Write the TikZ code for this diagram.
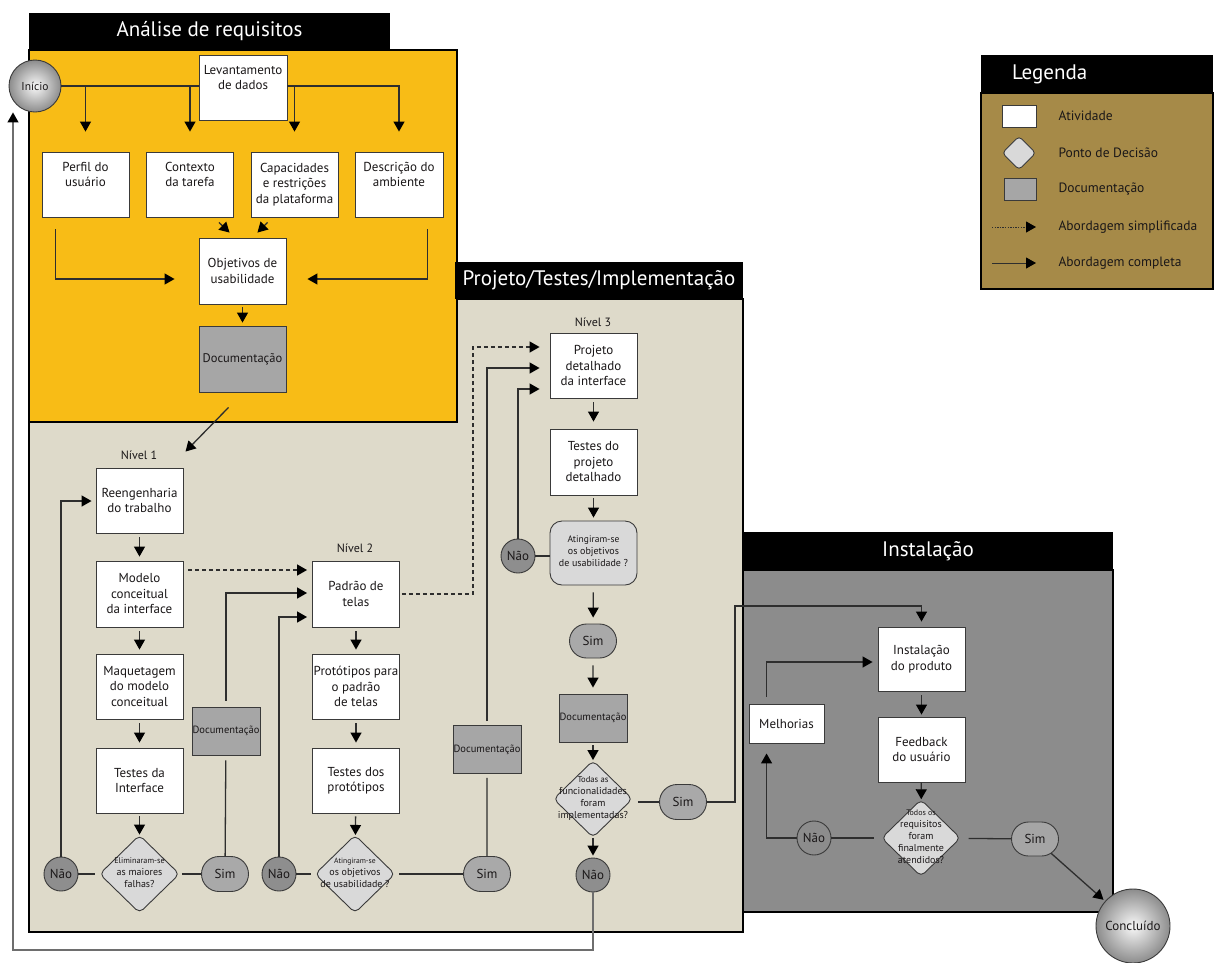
\documentclass[tikz,border=0pt]{standalone}
\usepackage{fontspec}
\setmainfont{PT Sans}
\usetikzlibrary{arrows.meta,shapes.geometric,shapes.misc,calc}

\definecolor{reqyellow}{HTML}{F8BC16}
\definecolor{projbeige}{HTML}{DEDACA}
\definecolor{instgray}{HTML}{8C8C8C}
\definecolor{legolive}{HTML}{A68A48}
\definecolor{docgray}{HTML}{A6A6A6}
\definecolor{decgray}{HTML}{D9D9D9}
\definecolor{naogray}{HTML}{8E8E8E}
\definecolor{simgray}{HTML}{A9A9A9}
\definecolor{ink}{HTML}{1A1718}
\definecolor{edge}{HTML}{3A3A3A}
\definecolor{wire}{HTML}{2E2E2E}
\definecolor{outer}{HTML}{6E6E6E}

% centred multi-line text that does not enlarge its shape
\newcommand{\dtext}[1]{\makebox[0pt]{\raisebox{-2pt}[0pt][0pt]{\begin{tabular}[c]{@{}c@{}}#1\end{tabular}}}}

\tikzset{
  panel/.style={draw=black, line width=1.8pt},
  header/.style={fill=black, text=white, inner sep=0pt, font=\fontsize{21}{24}\selectfont},
  act/.style={draw=edge, line width=0.9pt, fill=white, minimum width=87pt, minimum height=65pt,
    inner sep=1pt, align=center, font=\fontsize{13}{15.5}\selectfont},
  docbox/.style={draw=edge, line width=0.9pt, fill=docgray, minimum width=68pt, minimum height=48pt,
    inner sep=0pt, font=\fontsize{10.5}{12}\selectfont},
  dec/.style={diamond, draw=edge, line width=0.9pt, fill=decgray, minimum width=80pt, minimum height=78pt,
    inner sep=0pt, rounded corners=5pt},
  decbox/.style={rectangle, draw=edge, line width=0.9pt, fill=decgray, minimum width=87pt, minimum height=64pt,
    inner sep=0pt, rounded corners=12pt},
  naoc/.style={circle, draw=edge, line width=0.9pt, fill=naogray, minimum size=34pt, inner sep=0pt,
    font=\fontsize{13}{15}\selectfont},
  simr/.style={rounded rectangle, draw=edge, line width=0.9pt, fill=simgray, minimum width=47pt,
    minimum height=35pt, inner sep=0pt, font=\fontsize{13}{15}\selectfont},
  endpt/.style={circle, draw=edge, line width=0.9pt, inner sep=0pt, shading=radial,
    inner color=white!95!gray, outer color=black!45},
  nivel/.style={font=\fontsize{12}{14}\selectfont},
  legtext/.style={anchor=west, font=\fontsize{13.5}{15}\selectfont},
  link/.style={draw=wire, line width=1.3pt},
  arr/.style={link, -{Triangle[length=10pt,width=11pt,color=black]}},
  darr/.style={arr, dash pattern=on 4pt off 3pt},
}

\begin{document}
\begin{tikzpicture}[x=1pt, y=-1pt, text=ink]
\useasboundingbox (0,0) rectangle (1217,962);

% ---------- panels ----------
\draw[panel, fill=instgray] (743,570) rectangle (1113,912);
\draw[panel, fill=projbeige] (29,299) rectangle (743,932);
\draw[panel, fill=reqyellow] (29,50) rectangle (457,422);
\draw[panel, fill=legolive] (981,93) rectangle (1213,289);

\node[header, minimum width=361pt, minimum height=37pt] (hreq) at (209.5,31.5) {Análise de requisitos};
\node[header, minimum width=288pt, minimum height=37pt] (hproj) at (599,280.5) {Projeto/Testes/Implementação};
\node[header, minimum width=370pt, minimum height=38pt] (hinst) at (928,551) {Instalação};
\node[header, minimum height=38pt, text width=170pt, inner xsep=31pt, align=left] (hleg) at (1097,74) {Legenda};

% ---------- Análise de requisitos ----------
\node[endpt, minimum size=52pt, font=\fontsize{11.5}{13}\selectfont] (inicio) at (35,86) {Início};
\node[act, minimum width=88pt] (lev) at (243,87.5) {Levantamento\\de dados\\\strut};
\node[act] (perfil) at (85.5,184.5) {Perfil do\\usuário\\\strut};
\node[act] (ctx) at (190,184.5) {Contexto\\da tarefa\\\strut};
\node[act] (cap) at (294.5,184.5) {Capacidades\\e restrições\\da plataforma};
\node[act, minimum width=88pt] (descr) at (399,184.5) {Descrição do\\ambiente\\\strut};
\node[act, minimum height=66pt] (obj) at (242.5,271) {Objetivos de\\usabilidade};
\node[docbox, minimum width=87pt, minimum height=66pt, font=\fontsize{12.5}{15}\selectfont] (doc0) at (242.5,359) {Documentação};

\draw[link] (inicio.east) -- (inicio.east -| lev.west);
\draw[arr, shorten >=20pt] (perfil.north |- inicio.east) -- (perfil.north);
\draw[arr, shorten >=20pt] (ctx.north |- inicio.east) -- (ctx.north);
\draw[arr, shorten >=20pt] (cap.north |- inicio.east) -- (cap.north);
\draw[arr, shorten >=20pt] (lev.east |- inicio.east) -| (descr.north);
\draw[arr] ($(ctx.south east)+(-15,5)$) -- ($(obj.north west)+(31,-5)$);
\draw[arr] ($(cap.south west)+(17,5)$) -- ($(obj.north east)+(-29,-5)$);
\draw[arr, shorten >=24pt] ($(perfil.south west)+(14,12)$) |- (obj.west |- 0,279);
\draw[arr, shorten >=21pt] ($(descr.south east)+(-16,12)$) |- (obj.east |- 0,279);
\draw[arr, shorten <=3pt, shorten >=3pt] (obj) -- (doc0);

% ---------- Projeto / Testes / Implementação ----------
\node[nivel] (niv1) at (139,455) {Nível 1};
\node[nivel] (niv2) at (355,548) {Nível 2};
\node[nivel] (niv3) at (593,322) {Nível 3};

\node[act] (reeng) at (139.5,500.5) {Reengenharia\\do trabalho};
\node[act, minimum height=66pt] (modelo) at (139.5,594) {Modelo\\conceitual\\da interface};
\node[act] (maquet) at (139.5,686.5) {Maquetagem\\do modelo\\conceitual};
\node[act] (testes1) at (139.5,780.5) {Testes da\\Interface};
\node[dec] (dia1) at (139.5,874) {\dtext{\fontsize{8.2}{8}\selectfont Eliminaram-se\\as maiores\\falhas?}};
\node[naoc] (nao1) at (61,874) {Não};
\node[simr] (sim1) at (225,874) {Sim};
\node[docbox] (doc1) at (226,731) {Documentação};

\draw[arr] ($(doc0.south)+(-14,15)$) -- ($(reeng.north)+(46,-16)$);

\node[act, minimum height=66pt] (padrao) at (356,594) {Padrão de\\telas};
\node[act] (prot) at (356,686.5) {Protótipos para\\o padrão\\de telas};
\node[act] (testes2) at (356,780.5) {Testes dos\\protótipos};
\node[dec] (dia2) at (355,874) {\dtext{\fontsize{7.6}{8.2}\selectfont Atingiram-se\\os objetivos\\de usabilidade ?}};
\node[naoc] (nao2) at (279,874) {Não};
\node[simr] (sim2) at (487,874) {Sim};
\node[docbox] (doc2) at (487,749.5) {Documentação};

\node[act] (proj) at (593.5,365.5) {Projeto\\detalhado\\da interface};
\node[act, minimum height=66pt] (testes3) at (593.5,462) {Testes do\\projeto\\detalhado};
\node[decbox] (dec3) at (593.5,553) {\dtext{\fontsize{9.5}{12.8}\selectfont Atingiram-se\\os objetivos\\de usabilidade ?}};
\node[naoc] (nao3) at (518,556) {Não};
\node[simr, minimum height=34pt] (sim3) at (593,641) {Sim};
\node[docbox] (doc3) at (593,718) {Documentação};
\node[dec, minimum width=79pt, minimum height=77pt] (dia3) at (593,799) {\dtext{\fontsize{8.6}{8}\selectfont Todas as\\funcionalidades\\foram\\implementadas?}};
\node[naoc] (nao4) at (593,875) {Não};
\node[simr] (sim4) at (683,802) {Sim};

% level 1
\draw[arr, shorten <=4pt, shorten >=4pt] (reeng) -- (modelo);
\draw[arr, shorten <=4pt, shorten >=4pt] (modelo) -- (maquet);
\draw[arr, shorten <=4pt, shorten >=5pt] (maquet) -- (testes1);
\draw[arr, shorten <=3pt] (testes1) -- (dia1);
\draw[link, shorten >=4pt] (nao1) -- (dia1);
\draw[link, shorten <=2pt] (dia1) -- (sim1);
\draw[arr, shorten >=4pt] (nao1.north) |- (reeng.west |- 0,501);
\draw[link, shorten >=5pt] (sim1) -- (doc1);
\draw[arr, shorten <=6pt, shorten >=5pt] (doc1.north) |- (padrao.west |- 0,593);
\draw[darr, shorten <=5pt, shorten >=5pt] (modelo.east |- 0,570) -- (padrao.west |- 0,570);

% level 2
\draw[arr, shorten <=4pt, shorten >=4pt] (padrao) -- (prot);
\draw[arr, shorten <=4pt, shorten >=5pt] (prot) -- (testes2);
\draw[arr, shorten <=3pt] (testes2) -- (dia2);
\draw[link, shorten >=4pt] (nao2) -- (dia2);
\draw[link, shorten <=4pt] (dia2) -- (sim2);
\draw[arr, shorten >=5pt] (nao2.north) |- (padrao.west |- 0,617);
\draw[link, shorten >=4pt] (sim2) -- (doc2);
\draw[arr, shorten <=4pt, shorten >=10pt] (doc2.north) |- (proj.west |- 0,368);
\draw[darr, shorten <=2pt, shorten >=10pt] (padrao.east) -| (473,347) -- (proj.west |- 0,347);

% level 3
\draw[arr, shorten <=4pt, shorten >=7pt] (proj) -- (testes3);
\draw[arr, shorten <=3pt, shorten >=3pt] (testes3) -- (dec3);
\draw[link] (nao3.east) -- (nao3.east -| dec3.west);
\draw[arr, shorten >=10pt] (nao3.north) |- (proj.west |- 0,389);
\draw[arr, shorten <=7pt, shorten >=6pt] (dec3) -- (sim3);
\draw[arr, shorten <=7pt, shorten >=6pt] (sim3) -- (doc3);
\draw[arr, shorten <=3pt] (doc3) -- (dia3);
\draw[arr, shorten >=2pt] (dia3) -- (nao4);
\draw[link, shorten <=5pt] (dia3.east |- sim4.west) -- (sim4.west);

% ---------- Instalação ----------
\node[act, minimum height=64pt] (inst) at (921.5,659) {Instalação\\do produto};
\node[act] (feed) at (921.5,749.5) {Feedback\\do usuário};
\node[dec, minimum width=79pt, minimum height=77pt] (dia4) at (921,838) {\dtext{\fontsize{8}{8.2}\selectfont Todos os\\requisitos\\foram\\finalmente\\atendidos?}};
\node[naoc, fill=instgray] (nao5) at (814,838) {Não};
\node[simr, minimum height=34pt, fill=simgray!85!instgray] (sim5) at (1035,839) {Sim};
\node[act, minimum width=75pt, minimum height=39pt] (melh) at (786.5,723.5) {Melhorias};
\node[endpt, minimum size=74pt, font=\fontsize{13}{15}\selectfont] (concl) at (1133,926) {Concluído};

\draw[arr, shorten >=5pt] (sim4.east) -| (735,606) -| (inst.north);
\draw[arr, shorten <=4pt, shorten >=2pt] (inst) -- (feed);
\draw[arr] (feed) -- (dia4);
\draw[link, shorten >=7pt] (nao5) -- (dia4);
\draw[link, shorten <=8pt] (dia4) -- (sim5);
\draw[arr, shorten >=10pt] (nao5.west) -| ($(melh.south west)+(18,0)$);
\draw[arr, shorten <=7pt, shorten >=5pt] ($(melh.north west)+(18,0)$) |- (inst.west |- 0,662);
\draw[arr, shorten >=2pt] (sim5) -- (concl);

% loop back to the start
\draw[arr, draw=outer] (nao4.south) |- (13,950) -- (inicio.south -| 13,0);

% ---------- Legenda ----------
\node[draw=edge, line width=0.9pt, fill=white, minimum width=34pt, minimum height=22pt, inner sep=0pt] (lact) at (1019,116) {};
\node[diamond, draw=edge, line width=0.9pt, fill=decgray, minimum size=34pt, inner sep=0pt, rounded corners=4pt] (ldec) at (1019,153) {};
\node[draw=edge, line width=0.9pt, fill=docgray, minimum width=32pt, minimum height=22pt, inner sep=0pt] (ldoc) at (1020,189) {};
\coordinate (lsa) at (992,227);
\coordinate (lsb) at (1036,227);
\coordinate (lca) at (992,263);
\coordinate (lcb) at (1036,263);
\draw[arr, line width=1pt, dash pattern=on 1.3pt off 1.3pt] (lsa) -- (lsb);
\draw[arr, line width=1pt] (lca) -- (lcb);
\node[legtext] (tact) at (1055,116) {Atividade};
\node[legtext] (tdec) at (1055,153) {Ponto de Decisão};
\node[legtext] (tdoc) at (1055,189) {Documentação};
\node[legtext] (tsim) at (1055,227) {Abordagem simplificada};
\node[legtext] (tcom) at (1055,263) {Abordagem completa};
\end{tikzpicture}
\end{document}
